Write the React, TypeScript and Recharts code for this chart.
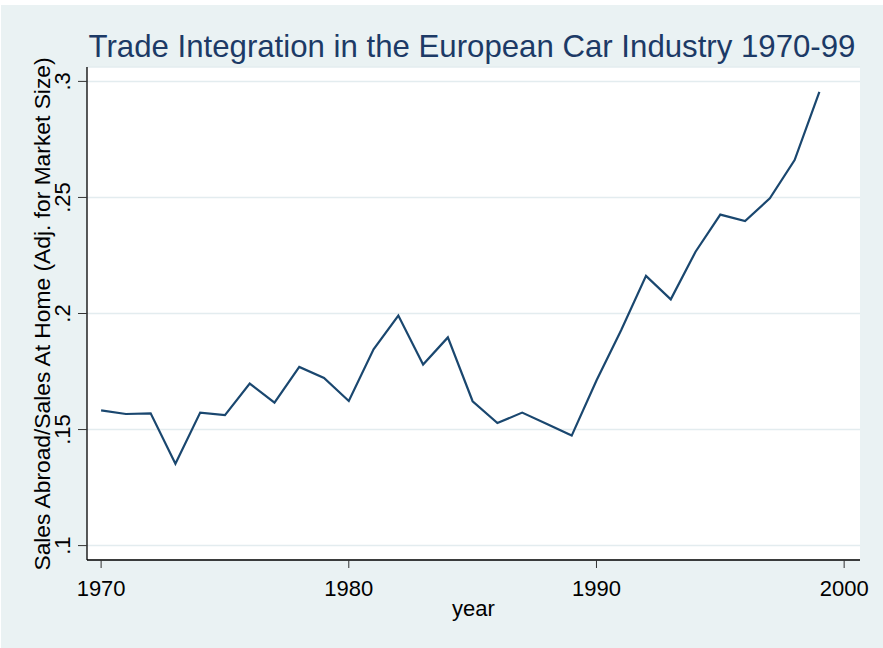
import React from 'react';
import { LineChart, Line, XAxis, YAxis, CartesianGrid } from 'recharts';

// Trade integration index, European car industry
const years = [
  1970, 1971, 1972, 1973, 1974, 1975, 1976, 1977, 1978, 1979,
  1980, 1981, 1982, 1983, 1984, 1985, 1986, 1987, 1988, 1989,
  1990, 1991, 1992, 1993, 1994, 1995, 1996, 1997, 1998, 1999,
];
const salesRatio = [
  0.1583, 0.1567, 0.157, 0.1353, 0.1573, 0.1562, 0.1698, 0.1616, 0.177, 0.1722,
  0.1623, 0.1846, 0.1991, 0.178, 0.1897, 0.1622, 0.1528, 0.1573, 0.1524, 0.1474,
  0.1711, 0.1929, 0.2162, 0.2061, 0.2266, 0.2426, 0.2398, 0.2496, 0.2661, 0.2955,
];
const xTicks = [1970, 1980, 1990, 2000];
const yTicks = [0.1, 0.15, 0.2, 0.25, 0.3];

const chartData = years.map((year, i) => ({ year, value: salesRatio[i] }));

const FONT = '"Liberation Sans", Arial, Helvetica, sans-serif';
const BG = '#EAF2F3';
const NAVY = '#1A476F';

// Stata style: drop the leading zero (".25")
const fmtY = (v: number) => String(v).replace(/^0\./, '.');

// y tick labels are rotated to run bottom-to-top
const YTick = (props: any) => {
  const { x, y, payload } = props;
  return (
    <text
      x={x}
      y={y}
      transform={`rotate(-90 ${x} ${y})`}
      textAnchor="middle"
      fontSize={22}
      fontFamily={FONT}
      fill="#000"
    >
      {fmtY(payload.value)}
    </text>
  );
};

const W = 883;
const H = 648;

export default function App() {
  return (
    <div style={{ position: 'absolute', left: 0, top: 0, width: W, height: H, background: '#fff' }}>
      <div style={{ position: 'absolute', left: 1, top: 5, right: 0, bottom: 0, background: BG }} />
      <div style={{ position: 'absolute', left: 0, top: 0 }}>
        <LineChart
          width={W}
          height={H}
          data={chartData}
          margin={{ top: 67, right: 23, bottom: 28, left: 0 }}
        >
          <CartesianGrid vertical={false} stroke="#e3ecef" strokeWidth={1.5} fill="#fff" />
          <XAxis
            dataKey="year"
            type="number"
            domain={[1969.43, 2000.64]}
            ticks={xTicks}
            allowDataOverflow
            height={60}
            tickSize={8}
            tickMargin={12}
            axisLine={{ stroke: '#000', strokeWidth: 1.3 }}
            tickLine={{ stroke: '#333' }}
            tick={{ fontSize: 22, fontFamily: FONT, fill: '#000' }}
          />
          <YAxis
            type="number"
            domain={[0.0938, 0.3062]}
            ticks={yTicks}
            allowDataOverflow
            width={87}
            tickSize={9}
            tickMargin={8}
            axisLine={{ stroke: '#000', strokeWidth: 1.3 }}
            tickLine={{ stroke: '#333' }}
            tick={<YTick />}
          />
          <Line
            dataKey="value"
            type="linear"
            stroke={NAVY}
            strokeWidth={2.2}
            dot={false}
            isAnimationActive={false}
          />
        </LineChart>
      </div>
      <svg
        width={W}
        height={H}
        style={{ position: 'absolute', left: 0, top: 0, pointerEvents: 'none' }}
      >
        <text x={472} y={57} textAnchor="middle" fontSize={31.2} fontFamily={FONT} fill="#1c3a66">
          Trade Integration in the European Car Industry 1970-99
        </text>
        <text x={473.5} y={616} textAnchor="middle" fontSize={22} fontFamily={FONT} fill="#000">
          year
        </text>
        <text
          x={50}
          y={314}
          transform="rotate(-90 50 314)"
          textAnchor="middle"
          fontSize={22.8}
          fontFamily={FONT}
          fill="#000"
        >
          Sales Abroad/Sales At Home (Adj. for Market Size)
        </text>
      </svg>
    </div>
  );
}
